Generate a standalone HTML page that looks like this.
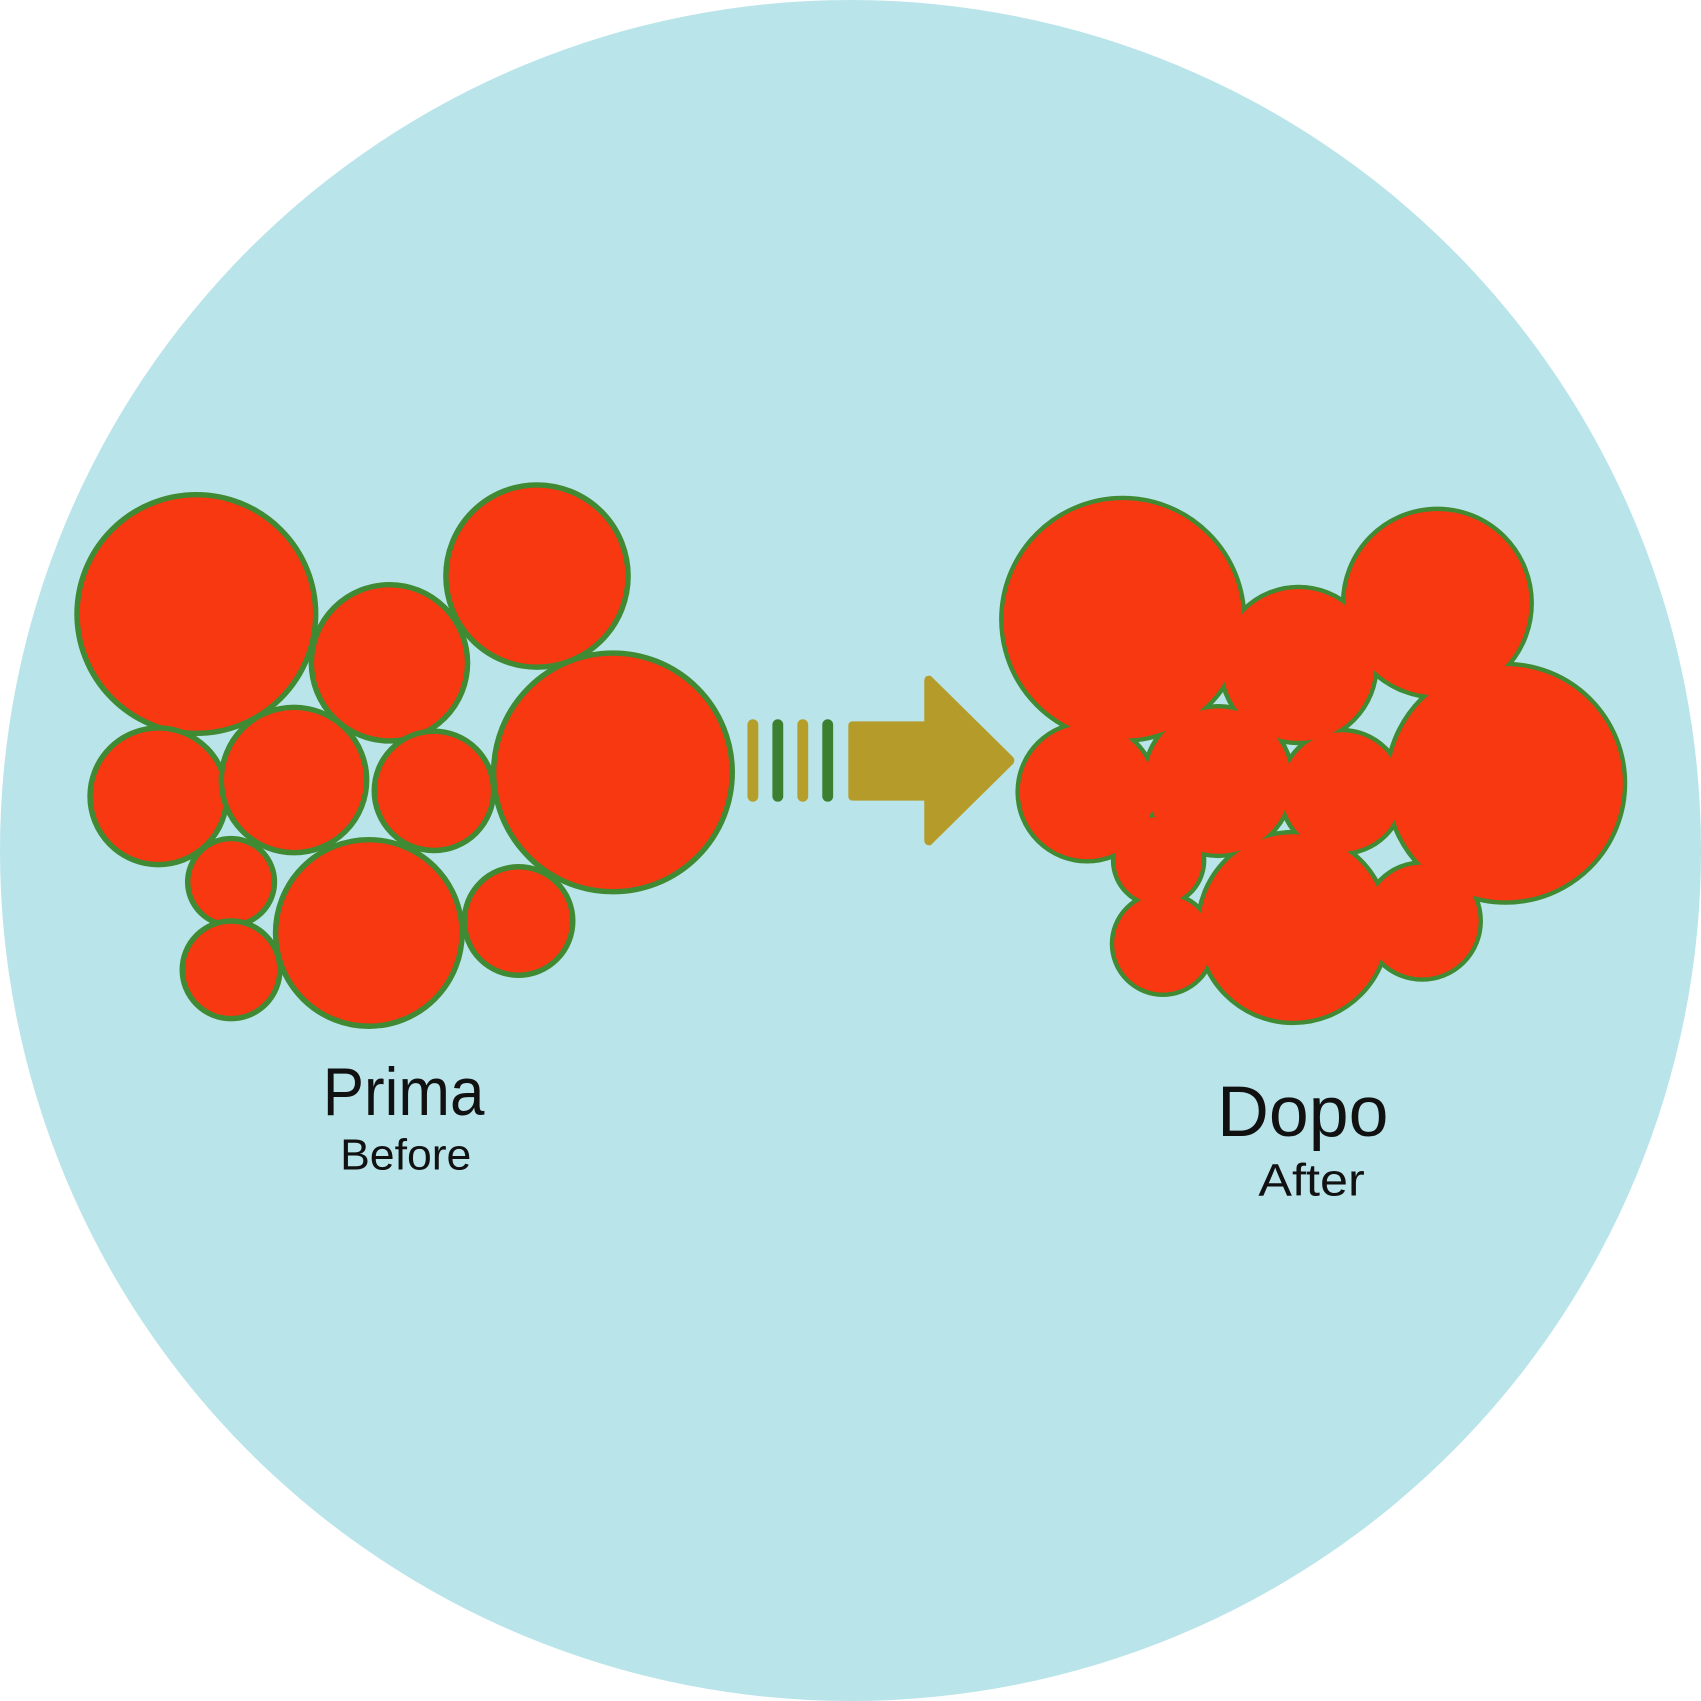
<!DOCTYPE html>
<html><head><meta charset="utf-8"><style>
html,body{margin:0;padding:0;background:#fff;}
svg{display:block;}
text{font-family:"Liberation Sans",sans-serif;fill:#111;text-anchor:middle;}
</style></head><body>
<svg width="1701" height="1701" viewBox="0 0 1568 1568" xmlns="http://www.w3.org/2000/svg">
<circle cx="784" cy="784" r="784" fill="#b9e4ea"/>
<g fill="#f73811" stroke="#3f8a32" stroke-width="5">
<circle cx="181" cy="566" r="110"/>
<circle cx="495" cy="531" r="84"/>
<circle cx="359" cy="611" r="72"/>
<circle cx="565" cy="712" r="110"/>
<circle cx="146" cy="734" r="63"/>
<circle cx="271" cy="719" r="67"/>
<circle cx="400" cy="729" r="55"/>
<circle cx="213" cy="813" r="40"/>
<circle cx="340" cy="860" r="86"/>
<circle cx="478" cy="849" r="50"/>
<circle cx="213" cy="894" r="45"/>
</g>
<g stroke="#3f8a32" stroke-width="8" fill="#f73811">
<circle cx="1035" cy="571" r="110"/>
<circle cx="1325" cy="556" r="85"/>
<circle cx="1197" cy="613" r="70"/>
<circle cx="1388" cy="722" r="108"/>
<circle cx="1002" cy="730" r="62"/>
<circle cx="1123" cy="720" r="67"/>
<circle cx="1237" cy="730" r="55"/>
<circle cx="1068" cy="793" r="40"/>
<circle cx="1192" cy="855" r="86"/>
<circle cx="1311" cy="849" r="52"/>
<circle cx="1072" cy="870" r="45"/>
</g>
<g fill="#f73811">
<circle cx="1035" cy="571" r="110"/>
<circle cx="1325" cy="556" r="85"/>
<circle cx="1197" cy="613" r="70"/>
<circle cx="1388" cy="722" r="108"/>
<circle cx="1002" cy="730" r="62"/>
<circle cx="1123" cy="720" r="67"/>
<circle cx="1237" cy="730" r="55"/>
<circle cx="1068" cy="793" r="40"/>
<circle cx="1192" cy="855" r="86"/>
<circle cx="1311" cy="849" r="52"/>
<circle cx="1072" cy="870" r="45"/>
</g>
<g stroke-width="10" stroke-linecap="round">
<line x1="694" y1="668" x2="694" y2="734" stroke="#b59e2a"/>
<line x1="717" y1="668" x2="717" y2="734" stroke="#3a8030"/>
<line x1="740" y1="668" x2="740" y2="734" stroke="#b59e2a"/>
<line x1="763" y1="668" x2="763" y2="734" stroke="#3a8030"/>
</g>
<path d="M786 665 L852 665 L852 628 Q852 622 858 623 L934 698 Q936 701 934 704 L858 779 Q852 780 852 774 L852 738 L786 738 Q782 738 782 734 L782 669 Q782 665 786 665 Z" fill="#b59c2a"/>
<text x="372" y="1028" font-size="62" textLength="149" lengthAdjust="spacingAndGlyphs">Prima</text>
<text x="374" y="1078" font-size="40" textLength="121" lengthAdjust="spacingAndGlyphs">Before</text>
<text x="1201" y="1047" font-size="66" textLength="158" lengthAdjust="spacingAndGlyphs">Dopo</text>
<text x="1209" y="1102" font-size="42" textLength="98" lengthAdjust="spacingAndGlyphs">After</text>
</svg>
</body></html>
